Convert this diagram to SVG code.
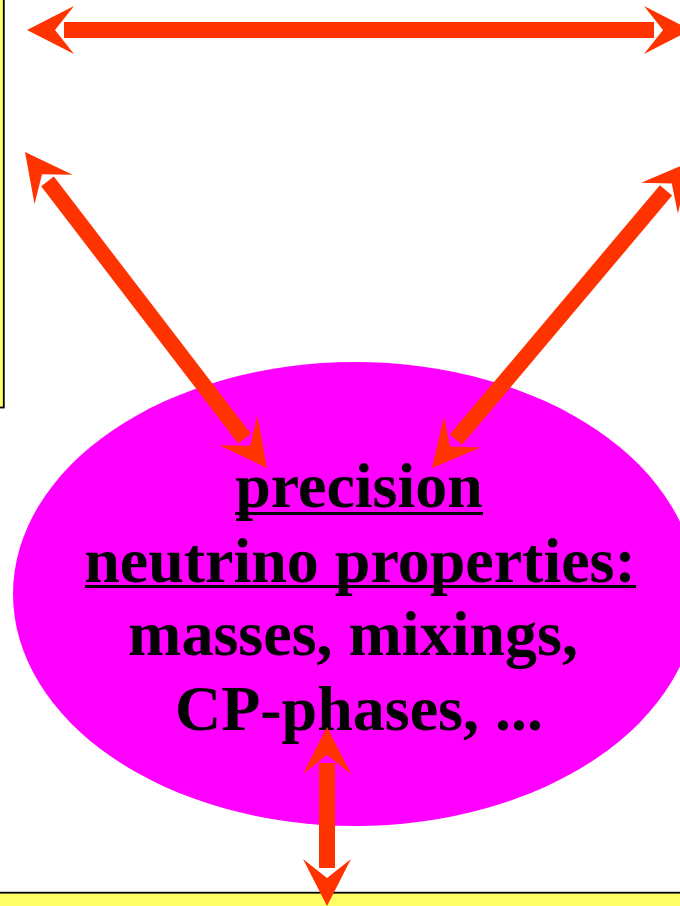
<svg xmlns="http://www.w3.org/2000/svg" width="680" height="906" viewBox="0 0 680 906">
<style>
.box{fill:#FFFF66;stroke:#000;stroke-width:1.8}
.oval{fill:#FF00FF}
.lbl{font-family:"Liberation Serif","Times New Roman",serif;font-weight:bold;font-size:64px;fill:#000;text-anchor:middle}
.ul{fill:#000}
.arr{fill:#FF3300}
</style>
<defs>
<polygon id="headA" points="0,0 47,-24 28,0 47,24"/>
</defs>
<g id="left-box"><rect class="box" x="-20" y="-20" width="23.8" height="427.5"/></g>
<g id="bottom-box"><rect class="box" x="-20" y="892.7" width="720" height="40"/></g>
<g id="neutrino-properties">
<ellipse class="oval" cx="355" cy="594" rx="342" ry="232"/>
<text class="lbl" x="359" y="507">precision</text>
<rect class="ul" x="235" y="512" width="248" height="3"/>
<text class="lbl" x="360" y="582">neutrino properties:</text>
<rect class="ul" x="85" y="585" width="551" height="3"/>
<text class="lbl" x="353" y="655">masses, mixings,</text>
<text class="lbl" x="359" y="730">CP-phases, ...</text>
</g>
<g id="connectors" class="arr">
<g transform="translate(27,30)">
<use href="#headA"/><rect x="37" y="-8" width="590" height="16"/><use href="#headA" transform="translate(664,0) scale(-1,1)"/>
</g>
<g transform="translate(25,152) rotate(52.55)">
<use href="#headA"/><rect x="37" y="-8" width="324" height="16"/><use href="#headA" transform="translate(398,0) scale(-1,1)"/>
</g>
<g transform="translate(432,468) rotate(-49.87)">
<use href="#headA"/><rect x="37" y="-8" width="326" height="16"/><use href="#headA" transform="translate(400,0) scale(-1,1)"/>
</g>
<g transform="translate(327,727) rotate(90)">
<use href="#headA"/><rect x="36" y="-8" width="105" height="16"/><use href="#headA" transform="translate(179,0) scale(-1,1)"/>
</g>
</g>
</svg>
